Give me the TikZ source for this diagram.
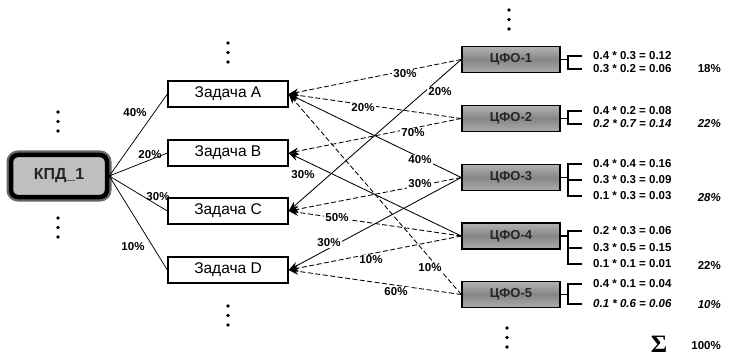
\documentclass[tikz,border=0pt]{standalone}
\usepackage{fontspec}
\setmainfont{Liberation Sans}
\newfontfamily\serifsig{Liberation Serif}
\usetikzlibrary{arrows.meta}
\begin{document}
\begin{tikzpicture}[x=1pt,y=-1pt,
  task/.style={draw=black, line width=1.3pt, fill=white, minimum width=120pt, minimum height=26pt, inner sep=0pt, font=\fontsize{15.5}{17}\selectfont},
  cfo/.style={draw=black, line width=1.5pt, minimum width=98pt, minimum height=26pt, inner sep=0pt, top color=gray!60, bottom color=gray!65, middle color=gray!95, font=\fontsize{13}{15}\selectfont\bfseries, text=black!85},
  kpd/.style={draw=black, line width=4.5pt, rounded corners=7pt, fill=gray!50, minimum width=96pt, minimum height=42pt, inner sep=0pt, font=\fontsize{16}{18}\selectfont\bfseries, text=black!85, preaction={draw=black!60, line width=9pt, rounded corners=9pt}},
  lbl/.style={font=\fontsize{11.5}{13}\selectfont\bfseries, fill=white, inner sep=1pt},
  calc/.style={font=\fontsize{11.5}{13}\selectfont\bfseries, anchor=west, inner sep=0pt},
  pct/.style={font=\fontsize{11.5}{13}\selectfont\bfseries, anchor=east, inner sep=0pt},
  link/.style={line width=0.85pt, -{Stealth[length=10pt,width=7pt]}},
  dlink/.style={link, dash pattern=on 5pt off 2.5pt},
  kline/.style={line width=0.75pt},
  brk/.style={line width=1.1pt},
]
\useasboundingbox (0,0) rectangle (730,358);

% ellipsis dots
\foreach \x/\y in {58/112, 58/218, 228/43, 228/306, 509/10, 507/328}{
  \foreach \k in {0,1,2}{ \fill ({\x},{\y+9.5*\k}) circle (1.8pt); }
}

% nodes
\node[kpd] (kpd) at (59,176) {КПД\_1};
\node[task] (A) at (228,94) {Задача A};
\node[task] (B) at (228,153) {Задача B};
\node[task] (C) at (228,211) {Задача C};
\node[task] (D) at (228,270) {Задача D};

\node[cfo] (c1) at (511,59.5) {ЦФО-1};
\node[cfo] (c2) at (511,118.5) {ЦФО-2};
\node[cfo] (c3) at (511,177.5) {ЦФО-3};
\node[cfo] (c4) at (511,236) {ЦФО-4};
\node[cfo] (c5) at (511,294.5) {ЦФО-5};

% KPD -> tasks
\draw[kline] (kpd.east) -- (A.west);
\draw[kline] (kpd.east) -- (B.west);
\draw[kline] (kpd.east) -- (C.west);
\draw[kline] (kpd.east) -- (D.west);

% CFO -> tasks
\draw[dlink] (c1.west) -- (A.east);
\draw[link]  (c1.west) -- (C.east);
\draw[dlink] (c2.west) -- (A.east);
\draw[dlink] (c2.west) -- (B.east);
\draw[link]  (c3.west) -- (A.east);
\draw[dlink] (c3.west) -- (C.east);
\draw[link]  (c3.west) -- (D.east);
\draw[link]  (c4.west) -- (B.east);
\draw[dlink] (c4.west) -- (C.east);
\draw[dlink] (c4.west) -- (D.east);
\draw[dlink] (c5.west) -- (A.east);
\draw[dlink] (c5.west) -- (D.east);

% labels on KPD lines
\node[lbl, fill=none] (k1) at (135,113) {40\%};
\node[lbl, fill=none] (k2) at (150,155) {20\%};
\node[lbl, fill=none] (k3) at (158,197) {30\%};
\node[lbl, fill=none] (k4) at (133,247) {10\%};

% labels on CFO lines
\node[lbl] (l1) at (405,74) {30\%};
\node[lbl] (l2) at (440,92) {20\%};
\node[lbl] (l3) at (363,108) {20\%};
\node[lbl] (l4) at (413,133) {70\%};
\node[lbl] (l5) at (420,160) {40\%};
\node[lbl] (l6) at (303,175) {30\%};
\node[lbl] (l7) at (420,184) {30\%};
\node[lbl] (l8) at (337,218) {50\%};
\node[lbl] (l9) at (329,243) {30\%};
\node[lbl] (l10) at (371,260) {10\%};
\node[lbl] (l11) at (430,268) {10\%};
\node[lbl] (l12) at (396,292) {60\%};

% computations
\node[calc] (t11) at (593,56) {0.4 * 0.3 = 0.12};
\node[calc] (t12) at (593,69) {0.3 * 0.2 = 0.06};
\node[calc] (t21) at (593,111) {0.4 * 0.2 = 0.08};
\node[calc] (t22) at (593,124) {\itshape 0.2 * 0.7 = 0.14};
\node[calc] (t31) at (593,164) {0.4 * 0.4 = 0.16};
\node[calc] (t32) at (593,180) {0.3 * 0.3 = 0.09};
\node[calc] (t33) at (593,196) {0.1 * 0.3 = 0.03};
\node[calc] (t41) at (593,231) {0.2 * 0.3 = 0.06};
\node[calc] (t42) at (593,248) {0.3 * 0.5 = 0.15};
\node[calc] (t43) at (593,264) {0.1 * 0.1 = 0.01};
\node[calc] (t51) at (593,284) {0.4 * 0.1 = 0.04};
\node[calc] (t52) at (593,304) {\itshape 0.1 * 0.6 = 0.06};

% brackets
\draw[brk] (c1.east) -- ++(8,0);
\draw[brk] ([xshift=-11pt]t11.west) -- ([xshift=-25pt]t11.west) -- ([xshift=-25pt]t12.west) -- ([xshift=-11pt]t12.west);
\draw[brk] (c2.east) -- ++(8,0);
\draw[brk] ([xshift=-11pt]t21.west) -- ([xshift=-25pt]t21.west) -- ([xshift=-25pt]t22.west) -- ([xshift=-11pt]t22.west);
\draw[brk] (c3.east) -- ++(8,0);
\draw[brk] ([xshift=-11pt]t31.west) -- ([xshift=-25pt]t31.west) -- ([xshift=-25pt]t33.west) -- ([xshift=-11pt]t33.west);
\draw[brk] ([xshift=-25pt]t32.west) -- ([xshift=-11pt]t32.west);
\draw[brk] (c4.east) -- ++(8,0);
\draw[brk] ([xshift=-11pt]t41.west) -- ([xshift=-25pt]t41.west) -- ([xshift=-25pt]t43.west) -- ([xshift=-11pt]t43.west);
\draw[brk] ([xshift=-25pt]t42.west) -- ([xshift=-11pt]t42.west);
\draw[brk] (c5.east) -- ++(8,0);
\draw[brk] ([xshift=-11pt]t51.west) -- ([xshift=-25pt]t51.west) -- ([xshift=-25pt]t52.west) -- ([xshift=-11pt]t52.west);

% percentages
\node[pct] (p1) at (721,69) {18\%};
\node[pct] (p2) at (721,124) {\itshape 22\%};
\node[pct] (p3) at (721,198) {\itshape 28\%};
\node[pct] (p4) at (721,266) {22\%};
\node[pct] (p5) at (721,305) {\itshape 10\%};
\node[inner sep=0pt] (sig) at (659,344) {\serifsig\bfseries\fontsize{25}{27}\selectfont Σ};
\node[pct] (tot) at (721,346) {100\%};
\end{tikzpicture}
\end{document}
